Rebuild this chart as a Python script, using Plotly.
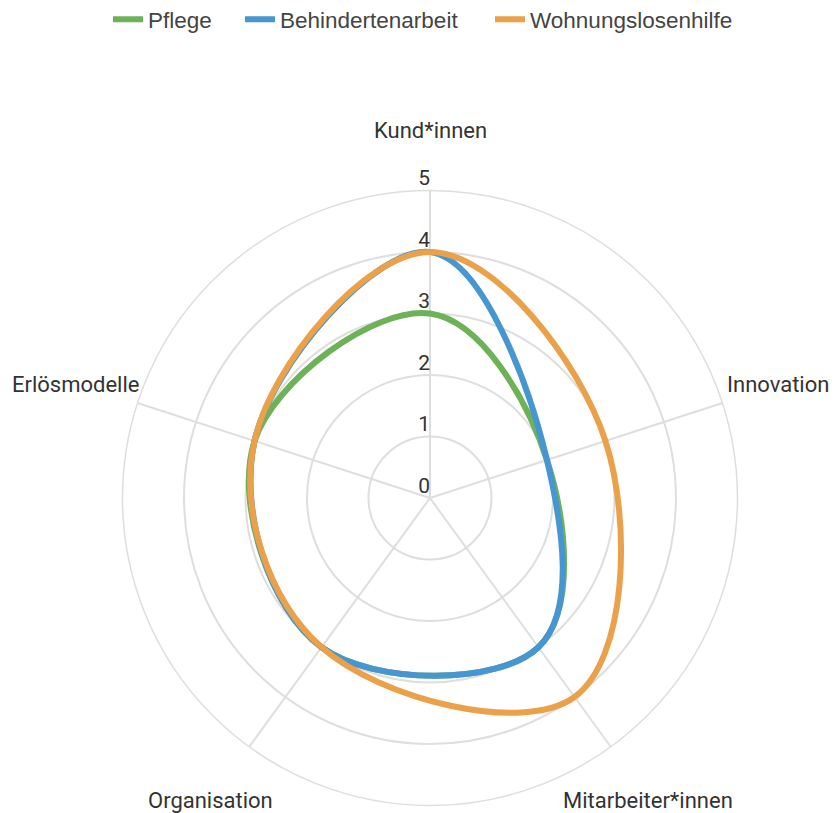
import plotly.graph_objects as go

categories = ["Kund*innen", "Innovation", "Mitarbeiter*innen", "Organisation", "Erlösmodelle"]
series_names = ["Pflege", "Behindertenarbeit", "Wohnungslosenhilfe"]
pflege = [3, 2, 3, 3, 3]
behindertenarbeit = [4, 2, 3, 3, 3]
wohnungslosenhilfe = [4, 3, 4, 3, 3]
radial_ticks = [0, 1, 2, 3, 4, 5]

colors = ["#6DB257", "#4596D1", "#EBA14A"]
values = [pflege, behindertenarbeit, wohnungslosenhilfe]
legend_ids = ["legend", "legend2", "legend3"]
legend_x = [100 / 838, 232 / 838, 482 / 838]

FONT = "Roboto"
LEGFONT = "Liberation Sans"
TXT = "#333333"
GRID = "#dedede"

fig = go.Figure()
for name, vals, col, lid in zip(series_names, values, colors, legend_ids):
    fig.add_trace(go.Scatterpolar(
        r=vals + [vals[0]],
        theta=categories + [categories[0]],
        mode="lines",
        name=name,
        legend=lid,
        line=dict(color=col, width=6, shape="spline", smoothing=1.1),
        hoverinfo="skip",
    ))

fig.add_trace(go.Scatterpolar(
    r=radial_ticks,
    theta=[categories[0]] * len(radial_ticks),
    mode="text",
    text=[str(t) for t in radial_ticks],
    textposition="top left",
    textfont=dict(family=FONT, size=21, color=TXT),
    showlegend=False,
    hoverinfo="skip",
))

# category label positions (paper coords)
label_pos = [
    (0.5036, 0.8499, "center", "middle"),
    (0.8556, 0.5363, "left", "middle"),
    (0.7637, 0.0258, "center", "middle"),
    (0.2411, 0.0258, "center", "middle"),
    (0.1599, 0.5363, "right", "middle"),
]
annotations = []
for cat, (x, y, xa, ya) in zip(categories, label_pos):
    annotations.append(dict(
        text=cat, x=x, y=y, xref="paper", yref="paper",
        xanchor=xa, yanchor=ya, showarrow=False,
        font=dict(family=FONT, size=22, color=TXT),
    ))

legends = {}
for lid, lx in zip(legend_ids, legend_x):
    legends[lid] = dict(
        orientation="h", x=lx, xanchor="left", y=1.012, yanchor="top",
        font=dict(family=LEGFONT, size=22.5, color="#444444"),
        bgcolor="rgba(0,0,0,0)",
    )

fig.update_layout(
    width=838, height=813,
    margin=dict(l=0, r=0, t=0, b=0, autoexpand=False),
    paper_bgcolor="white",
    plot_bgcolor="white",
    font=dict(family=FONT, size=20, color=TXT),
    annotations=annotations,
    showlegend=True,
    polar=dict(
        domain=dict(x=[0.1366, 0.8705], y=[0.0191, 0.7755]),
        bgcolor="white",
        angularaxis=dict(
            rotation=90, direction="clockwise",
            categoryorder="array", categoryarray=categories,
            showticklabels=False, ticks="",
            gridcolor=GRID, gridwidth=1.5,
            showline=True, linecolor=GRID, linewidth=1.5,
        ),
        radialaxis=dict(
            range=[0, 5], dtick=1, tick0=0,
            showticklabels=False, ticks="", showline=False,
            gridcolor=GRID, gridwidth=1.5,
        ),
    ),
    **legends,
)

fig.write_html("out.html")
